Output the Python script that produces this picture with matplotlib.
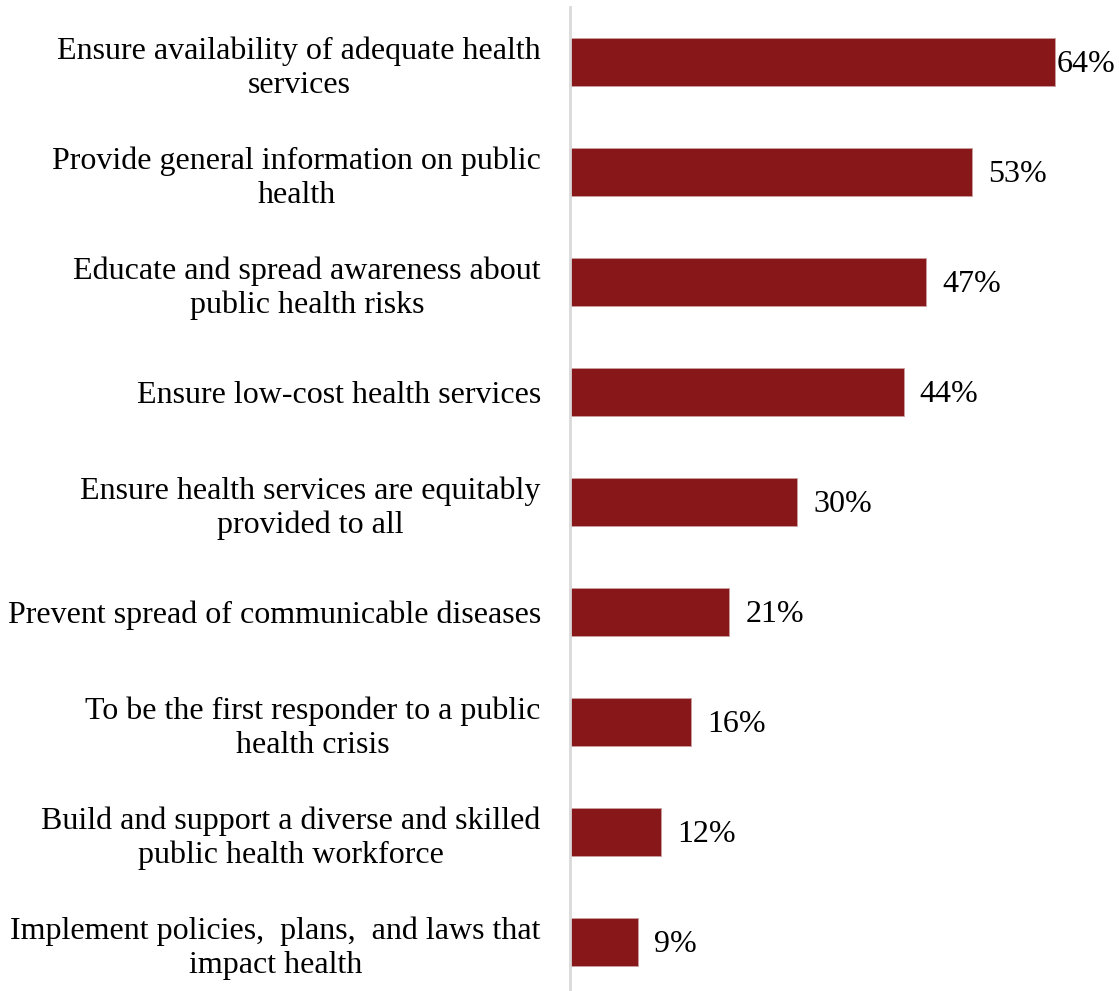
import matplotlib.pyplot as plt

plt.rcParams['font.family'] = ['Liberation Serif', 'DejaVu Serif']

roles = [
    'Ensure availability of adequate health\nservices',
    'Provide general information on public\nhealth',
    'Educate and spread awareness about\npublic health risks',
    'Ensure low-cost health services',
    'Ensure health services are equitably\nprovided to all',
    'Prevent spread of communicable diseases',
    'To be the first responder to a public\nhealth crisis',
    'Build and support a diverse and skilled\npublic health workforce',
    'Implement policies,  plans,  and laws that\nimpact health',
]
shares = [64, 53, 47, 44, 30, 21, 16, 12, 9]

bar_color = '#88171a'

fig = plt.figure(figsize=(11.19, 9.91), dpi=100)
ax = fig.add_axes([570 / 1119, 0, 549 / 1119, 984 / 991])

ypos = list(range(len(roles)))
ax.barh(ypos, shares, height=0.44, color=bar_color, edgecolor='#c9a0a0', linewidth=0.6)

ax.set_xlim(0, 72.4)
ax.set_ylim(8.445, -0.5)

for y, v in zip(ypos, shares):
    # the longest bar has no room left, so its label sits right against it
    off = 0.2 if v == max(shares) else 2.1
    ax.text(v + off, y + 0.02, f'{v}%', va='center', ha='left', fontsize=23)

ax.set_yticks(ypos)
ax.set_yticklabels(roles, fontsize=23, linespacing=1.22)
for lab in ax.get_yticklabels():
    lab.set_multialignment('center')
ax.tick_params(axis='y', length=0, pad=21)
ax.set_xticks([])

for side in ['top', 'right', 'bottom']:
    ax.spines[side].set_visible(False)
ax.spines['left'].set_color('#d9d9d9')
ax.spines['left'].set_linewidth(2)

fig.savefig('out.png', dpi=100)
